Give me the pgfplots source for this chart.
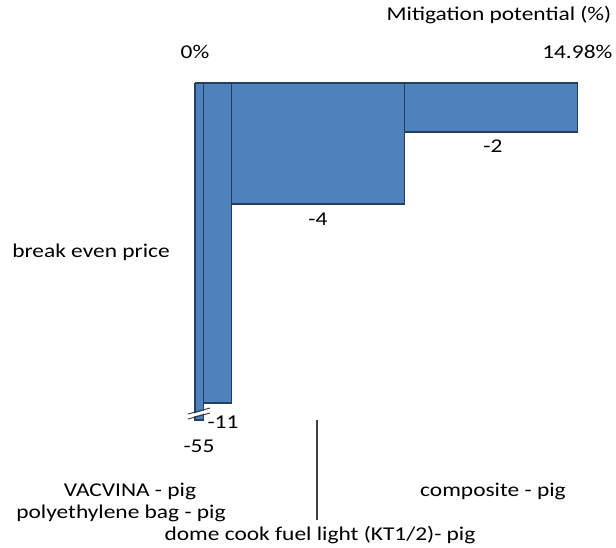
\documentclass[border=0pt]{standalone}
\usepackage{pgfplots}
\pgfplotsset{compat=1.18}
\usepackage{fontspec}
\setmainfont{Carlito}[FakeStretch=1.2]
\definecolor{barfill}{HTML}{4F81BD}
\definecolor{baredge}{HTML}{243F60}
\begin{document}
\begin{tikzpicture}[font=\fontsize{19.5}{22}\selectfont]
\useasboundingbox (0pt,0pt) rectangle (616pt,-548pt);
\begin{axis}[
    at={(195pt,-419pt)}, anchor=south west,
    scale only axis, width=382.3pt, height=336pt,
    xmin=0, xmax=14.98, ymin=-336, ymax=0,
    axis line style={draw=none},
    xtick={0,14.98}, xticklabels={0\%,14.98\%},
    xticklabel pos=upper, major tick length=0pt,
    ytick=\empty,
    xticklabel style={font=\fontsize{19.5}{22}\selectfont, yshift=21pt},
    /pgf/number format/assume math mode=true,
    clip=false,
  ]
  % bars: x from left edge to right edge, depth as drawn (bars are not to scale)
  \addplot[fill=barfill, draw=baredge, line width=1.1pt, line join=miter]
    coordinates {(8.20,0)(8.20,-49)(14.98,-49)(14.98,0)(8.20,0)};
  \addplot[fill=barfill, draw=baredge, line width=1.1pt, line join=miter]
    coordinates {(1.44,0)(1.44,-121)(8.20,-121)(8.20,0)(1.44,0)};
  \addplot[fill=barfill, draw=baredge, line width=1.1pt, line join=miter]
    coordinates {(0.33,0)(0.33,-320)(1.44,-320)(1.44,0)(0.33,0)};
  \addplot[fill=barfill, draw=baredge, line width=1.1pt, line join=miter]
    coordinates {(0,0)(0,-337)(0.33,-337)(0.33,0)(0,0)};
  % axis break on the -55 bar
  \fill[white] (axis cs:-0.27,-332) -- (axis cs:0.59,-326) -- (axis cs:0.59,-329) -- (axis cs:-0.27,-335) -- cycle;
  \draw[black!80, line width=0.9pt] (axis cs:-0.27,-331) -- (axis cs:0.59,-325);
  \draw[black!80, line width=0.9pt] (axis cs:-0.27,-336) -- (axis cs:0.59,-330);
\end{axis}
\node at (499pt,-15pt) {Mitigation potential (\%)};
\node at (91pt,-252pt) {break even price};
\node at (493pt,-146pt) {-2};
\node at (318pt,-219pt) {-4};
\node at (223pt,-422pt) {-11};
\node at (199pt,-446pt) {-55};
\draw[black!75, line width=1.2pt] (317pt,-420pt) -- (317pt,-520pt);
\node at (130pt,-491pt) {VACVINA - pig};
\node at (121pt,-513pt) {polyethylene bag - pig};
\node at (320pt,-535pt) {dome cook fuel light (KT1/2)- pig};
\node at (493pt,-491pt) {composite - pig};
\end{tikzpicture}
\end{document}
